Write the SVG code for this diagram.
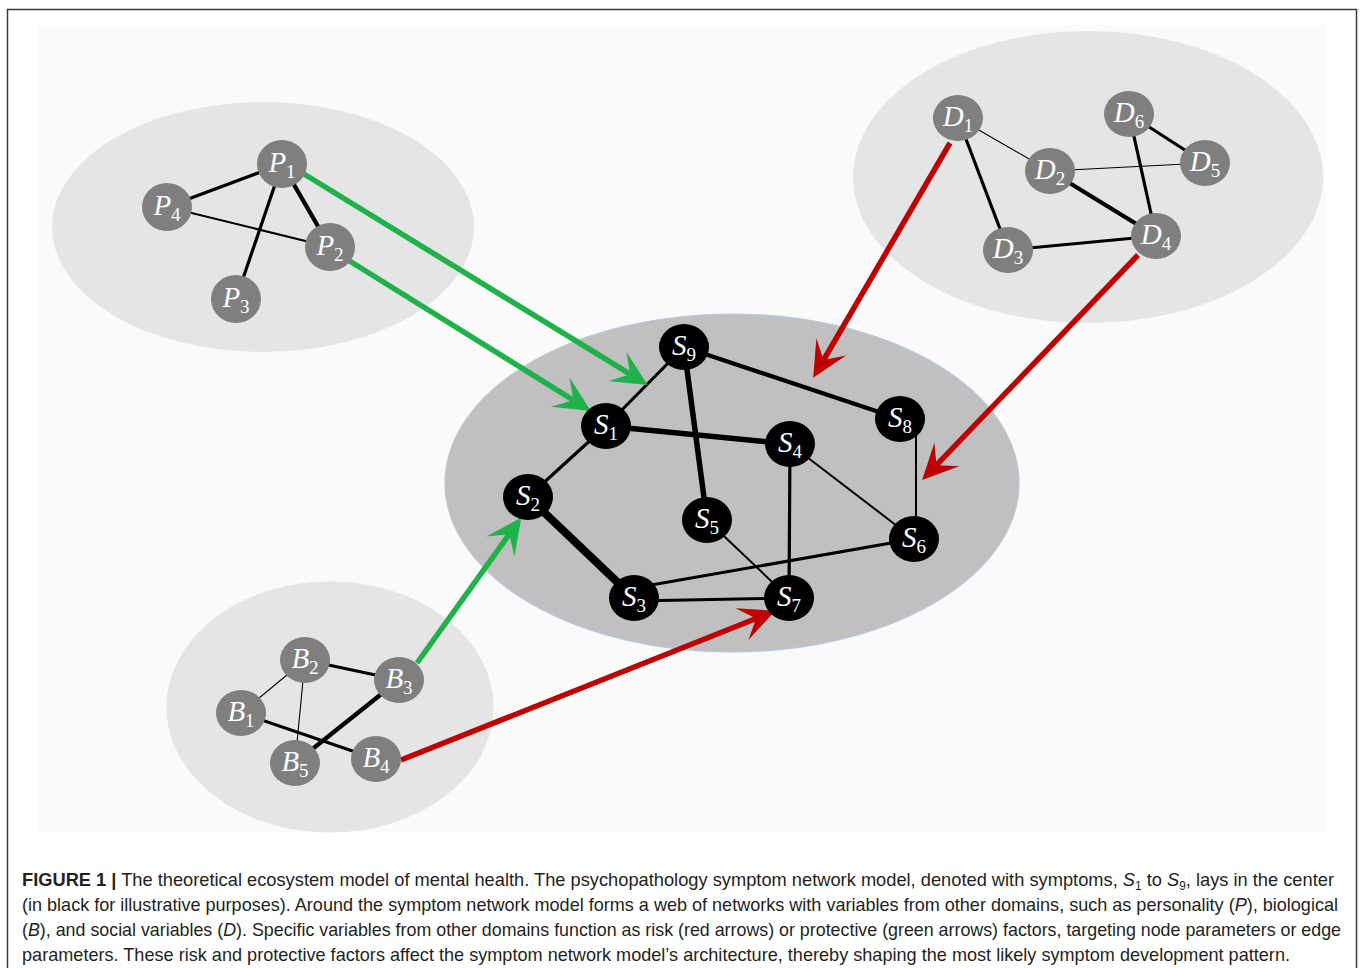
<svg xmlns="http://www.w3.org/2000/svg" width="1360" height="968" viewBox="0 0 1360 968">
  <style>
    .frame { fill: none; stroke: #3a3a3a; stroke-width: 1.5; }
    .panel { fill: #fafafa; }
    .domain { fill: #e6e5e6; }
    .core { fill: #c0c0c0; stroke: #b9c7d8; stroke-width: 1.2; }
    .edge { stroke: #000; stroke-linecap: butt; fill: none; }
    .w1 { stroke-width: 1.1; }
    .w2 { stroke-width: 2; }
    .w3 { stroke-width: 3.2; }
    .w4 { stroke-width: 4.3; }
    .w5 { stroke-width: 5.5; }
    .w7 { stroke-width: 8; }
    .prot { stroke: #1fb24b; stroke-width: 5.5; fill: none; }
    .risk { stroke: #c00000; stroke-width: 5.5; fill: none; }
    .gn { fill: #7f7f7f; }
    .bn { fill: #000; }
    .lbl { font-family: "Liberation Serif", "DejaVu Serif", serif; font-style: italic; font-size: 29px; fill: #fff; text-anchor: middle; }
    .sub { font-style: normal; font-size: 19px; }
    .cap { font-family: "Liberation Sans", Arial, sans-serif; font-size: 18.5px; fill: #231f20; }
    .capb { font-weight: bold; }
  </style>
  <defs>
    <marker id="headG" markerUnits="userSpaceOnUse" markerWidth="44" markerHeight="44" viewBox="-14 -16 32 32" refX="0" refY="0" orient="auto">
      <path d="M15,0 L-11,-12.5 L0,0 L-11,12.5 Z" fill="#1fb24b"/>
    </marker>
    <marker id="headR" markerUnits="userSpaceOnUse" markerWidth="44" markerHeight="44" viewBox="-14 -16 32 32" refX="0" refY="0" orient="auto">
      <path d="M15,0 L-11,-12.5 L0,0 L-11,12.5 Z" fill="#c00000"/>
    </marker>
  </defs>

  <rect width="1360" height="968" fill="#fff"/>
  <path class="frame" d="M7.5,990 V9.5 H1356.5 V990"/>
  <rect class="panel" x="39" y="25" width="1286" height="807"/>

  <!-- domain clouds -->
  <g id="domain-P"><ellipse class="domain" cx="263" cy="227" rx="211" ry="125"/></g>
  <g id="domain-D"><ellipse class="domain" cx="1088" cy="177" rx="235" ry="146"/></g>
  <g id="domain-B"><ellipse class="domain" cx="330" cy="707" rx="163" ry="125" stroke="#dcebd6" stroke-width="1.2"/></g>
  <g id="domain-S"><ellipse class="core" cx="732" cy="483" rx="287" ry="169"/></g>

  <g id="connectors">
    <!-- personality network -->
    <line class="edge w3" x1="282" y1="164" x2="167" y2="207"/>
    <line class="edge w3" x1="282" y1="164" x2="236" y2="299"/>
    <line class="edge w4" x1="282" y1="164" x2="330" y2="247"/>
    <line class="edge w2" x1="167" y1="207" x2="330" y2="247"/>
    <!-- social network -->
    <line class="edge w1" x1="958" y1="118" x2="1050" y2="171"/>
    <line class="edge w3" x1="958" y1="118" x2="1008" y2="250"/>
    <line class="edge w1" x1="1050" y1="171" x2="1205" y2="163"/>
    <line class="edge w4" x1="1050" y1="171" x2="1156" y2="236"/>
    <line class="edge w3" x1="1129" y1="114" x2="1156" y2="236"/>
    <line class="edge w3" x1="1129" y1="114" x2="1205" y2="163"/>
    <line class="edge w3" x1="1008" y1="250" x2="1156" y2="236"/>
    <!-- biological network -->
    <line class="edge w1" x1="241" y1="713" x2="305" y2="660"/>
    <line class="edge w1" x1="305" y1="660" x2="295" y2="763"/>
    <line class="edge w3" x1="305" y1="660" x2="399" y2="680"/>
    <line class="edge w3" x1="241" y1="713" x2="376" y2="759"/>
    <line class="edge w4" x1="399" y1="680" x2="295" y2="763"/>
    <!-- symptom network -->
    <line class="edge w3" x1="684" y1="347" x2="606" y2="426"/>
    <line class="edge w5" x1="684" y1="347" x2="707" y2="520"/>
    <line class="edge w4" x1="684" y1="347" x2="900" y2="419"/>
    <line class="edge w5" x1="606" y1="426" x2="790" y2="444"/>
    <line class="edge w3" x1="606" y1="426" x2="528" y2="497"/>
    <line class="edge w7" x1="528" y1="497" x2="634" y2="598"/>
    <line class="edge w3" x1="634" y1="601" x2="789" y2="598"/>
    <line class="edge w3" x1="634" y1="588" x2="914" y2="539"/>
    <line class="edge w3" x1="790" y1="444" x2="789" y2="598"/>
    <line class="edge w2" x1="790" y1="444" x2="914" y2="539"/>
    <line class="edge w2" x1="707" y1="520" x2="789" y2="598"/>
    <line class="edge w2" x1="916" y1="419" x2="916" y2="539"/>
    <!-- protective influences -->
    <line class="prot" x1="304" y1="174" x2="630.2" y2="374.2" marker-end="url(#headG)"/>
    <line class="prot" x1="348" y1="260" x2="573.3" y2="400.1" marker-end="url(#headG)"/>
    <line class="prot" x1="417" y1="663" x2="509.3" y2="534.2" marker-end="url(#headG)"/>
    <!-- risk influences -->
    <line class="risk" x1="950" y1="143" x2="823.6" y2="360.0" marker-end="url(#headR)"/>
    <line class="risk" x1="1138" y1="255" x2="936.4" y2="465.2" marker-end="url(#headR)"/>
    <line class="risk" x1="401" y1="760" x2="756.1" y2="618.5" marker-end="url(#headR)"/>
  </g>

  <!-- personality nodes -->
  <g id="P1"><ellipse class="gn" cx="282" cy="164" rx="25" ry="24"/><text class="lbl" x="282" y="172">P<tspan class="sub" dy="6">1</tspan></text></g>
  <g id="P2"><ellipse class="gn" cx="330" cy="247" rx="25" ry="24"/><text class="lbl" x="330" y="255">P<tspan class="sub" dy="6">2</tspan></text></g>
  <g id="P3"><ellipse class="gn" cx="236" cy="299" rx="25" ry="24"/><text class="lbl" x="236" y="307">P<tspan class="sub" dy="6">3</tspan></text></g>
  <g id="P4"><ellipse class="gn" cx="167" cy="207" rx="25" ry="24"/><text class="lbl" x="167" y="215">P<tspan class="sub" dy="6">4</tspan></text></g>

  <!-- social nodes -->
  <g id="D1"><ellipse class="gn" cx="958" cy="118" rx="25" ry="23"/><text class="lbl" x="958" y="126">D<tspan class="sub" dy="6">1</tspan></text></g>
  <g id="D2"><ellipse class="gn" cx="1050" cy="171" rx="25" ry="23"/><text class="lbl" x="1050" y="179">D<tspan class="sub" dy="6">2</tspan></text></g>
  <g id="D3"><ellipse class="gn" cx="1008" cy="250" rx="25" ry="23"/><text class="lbl" x="1008" y="258">D<tspan class="sub" dy="6">3</tspan></text></g>
  <g id="D4"><ellipse class="gn" cx="1156" cy="236" rx="25" ry="23"/><text class="lbl" x="1156" y="244">D<tspan class="sub" dy="6">4</tspan></text></g>
  <g id="D5"><ellipse class="gn" cx="1205" cy="163" rx="25" ry="23"/><text class="lbl" x="1205" y="171">D<tspan class="sub" dy="6">5</tspan></text></g>
  <g id="D6"><ellipse class="gn" cx="1129" cy="114" rx="25" ry="23"/><text class="lbl" x="1129" y="122">D<tspan class="sub" dy="6">6</tspan></text></g>

  <!-- biological nodes -->
  <g id="B1"><ellipse class="gn" cx="241" cy="713" rx="25" ry="23"/><text class="lbl" x="241" y="721">B<tspan class="sub" dy="6">1</tspan></text></g>
  <g id="B2"><ellipse class="gn" cx="305" cy="660" rx="25" ry="23"/><text class="lbl" x="305" y="668">B<tspan class="sub" dy="6">2</tspan></text></g>
  <g id="B3"><ellipse class="gn" cx="399" cy="680" rx="25" ry="23"/><text class="lbl" x="399" y="688">B<tspan class="sub" dy="6">3</tspan></text></g>
  <g id="B4"><ellipse class="gn" cx="376" cy="759" rx="25" ry="23"/><text class="lbl" x="376" y="767">B<tspan class="sub" dy="6">4</tspan></text></g>
  <g id="B5"><ellipse class="gn" cx="295" cy="763" rx="25" ry="23"/><text class="lbl" x="295" y="771">B<tspan class="sub" dy="6">5</tspan></text></g>

  <!-- symptom nodes -->
  <g id="S1"><ellipse class="bn" cx="606" cy="426" rx="25" ry="23"/><text class="lbl" x="606" y="434">S<tspan class="sub" dy="6">1</tspan></text></g>
  <g id="S2"><ellipse class="bn" cx="528" cy="497" rx="25" ry="23"/><text class="lbl" x="528" y="505">S<tspan class="sub" dy="6">2</tspan></text></g>
  <g id="S3"><ellipse class="bn" cx="634" cy="598" rx="25" ry="23"/><text class="lbl" x="634" y="606">S<tspan class="sub" dy="6">3</tspan></text></g>
  <g id="S4"><ellipse class="bn" cx="790" cy="444" rx="25" ry="23"/><text class="lbl" x="790" y="452">S<tspan class="sub" dy="6">4</tspan></text></g>
  <g id="S5"><ellipse class="bn" cx="707" cy="520" rx="25" ry="23"/><text class="lbl" x="707" y="528">S<tspan class="sub" dy="6">5</tspan></text></g>
  <g id="S6"><ellipse class="bn" cx="914" cy="539" rx="25" ry="23"/><text class="lbl" x="914" y="547">S<tspan class="sub" dy="6">6</tspan></text></g>
  <g id="S7"><ellipse class="bn" cx="789" cy="598" rx="25" ry="23"/><text class="lbl" x="789" y="606">S<tspan class="sub" dy="6">7</tspan></text></g>
  <g id="S8"><ellipse class="bn" cx="900" cy="419" rx="25" ry="23"/><text class="lbl" x="900" y="427">S<tspan class="sub" dy="6">8</tspan></text></g>
  <g id="S9"><ellipse class="bn" cx="684" cy="347" rx="25" ry="23"/><text class="lbl" x="684" y="355">S<tspan class="sub" dy="6">9</tspan></text></g>

  <!-- caption -->
  <g id="caption" class="cap">
    <text x="22" y="886" textLength="1312" lengthAdjust="spacingAndGlyphs"><tspan class="capb">FIGURE 1 |</tspan> The theoretical ecosystem model of mental health. The psychopathology symptom network model, denoted with symptoms, <tspan font-style="italic">S</tspan><tspan font-size="12" dy="4">1</tspan><tspan dy="-4"> to </tspan><tspan font-style="italic">S</tspan><tspan font-size="12" dy="4">9</tspan><tspan dy="-4">, lays in the center</tspan></text>
    <text x="22" y="911" textLength="1316" lengthAdjust="spacingAndGlyphs">(in black for illustrative purposes). Around the symptom network model forms a web of networks with variables from other domains, such as personality (<tspan font-style="italic">P</tspan>), biological</text>
    <text x="22" y="936" textLength="1319" lengthAdjust="spacingAndGlyphs">(<tspan font-style="italic">B</tspan>), and social variables (<tspan font-style="italic">D</tspan>). Specific variables from other domains function as risk (red arrows) or protective (green arrows) factors, targeting node parameters or edge</text>
    <text x="22" y="961" textLength="1268" lengthAdjust="spacingAndGlyphs">parameters. These risk and protective factors affect the symptom network model’s architecture, thereby shaping the most likely symptom development pattern.</text>
  </g>
</svg>
